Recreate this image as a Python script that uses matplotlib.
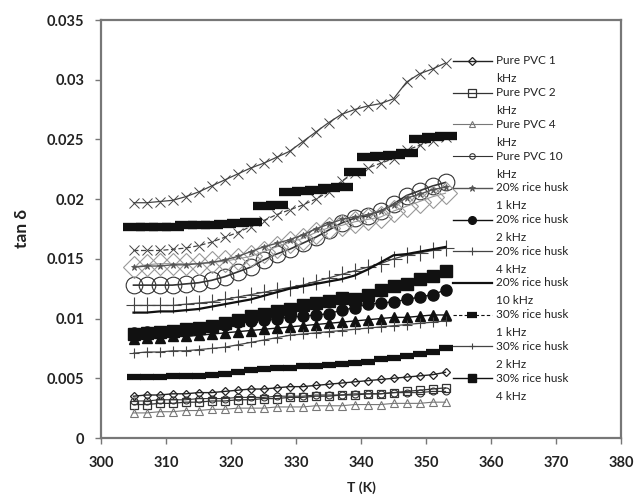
import matplotlib
matplotlib.use("Agg")
import matplotlib.pyplot as plt

plt.rcParams['font.family'] = ['Lato', 'DejaVu Sans']

# temperature (K)
T = [305, 307, 309, 311, 313, 315, 317, 319, 321, 323, 325, 327, 329,
     331, 333, 335, 337, 339, 341, 343, 345, 347, 349, 351, 353]

# series shown in the legend
pvc_1k = [.0035, .0036, .0036, .0037, .0037, .0038, .0038, .0039, .0040, .0041, .0041, .0042, .0043,
          .0043, .0044, .0045, .0046, .0047, .0048, .0049, .0050, .0051, .0052, .0053, .0055]
pvc_2k = [.0028, .0028, .0029, .0029, .0030, .0030, .0031, .0031, .0032, .0032, .0033, .0033, .0034,
          .0034, .0035, .0035, .0036, .0036, .0037, .0037, .0038, .0039, .0040, .0041, .0042]
pvc_4k = [.0021, .0021, .0022, .0022, .0023, .0023, .0024, .0024, .0025, .0025, .0025, .0026, .0026,
          .0026, .0027, .0027, .0027, .0028, .0028, .0028, .0029, .0029, .0029, .0030, .0030]
pvc_10k = [.0031, .0031, .0032, .0032, .0032, .0033, .0033, .0033, .0034, .0034, .0034, .0035, .0035,
           .0035, .0036, .0036, .0036, .0037, .0037, .0037, .0038, .0038, .0038, .0039, .0039]
rh20_1k = [.0143, .0144, .0144, .0145, .0145, .0146, .0147, .0149, .0152, .0156, .0160, .0163, .0166,
           .0170, .0175, .0179, .0183, .0185, .0187, .0190, .0195, .0201, .0204, .0208, .0210]
rh20_2k = [.0088, .0089, .0089, .0090, .0091, .0092, .0093, .0095, .0097, .0098, .0099, .0100, .0101,
           .0102, .0103, .0104, .0107, .0109, .0112, .0113, .0114, .0116, .0118, .0120, .0124]
rh20_4k = [.0111, .0111, .0111, .0111, .0112, .0113, .0114, .0116, .0118, .0120, .0122, .0124, .0126,
           .0128, .0131, .0134, .0137, .0140, .0143, .0146, .0150, .0153, .0155, .0157, .0159]
rh20_10k = [.0105, .0105, .0106, .0106, .0107, .0108, .0110, .0112, .0114, .0116, .0119, .0122, .0125,
            .0127, .0129, .0131, .0133, .0136, .0141, .0147, .0153, .0154, .0156, .0158, .0160]
rh30_1k = [.0051, .0051, .0051, .0052, .0052, .0052, .0053, .0054, .0055, .0057, .0058, .0059, .0059,
           .0060, .0060, .0061, .0062, .0063, .0064, .0066, .0067, .0069, .0070, .0072, .0075]
rh30_2k = [.0071, .0072, .0072, .0073, .0073, .0074, .0075, .0076, .0078, .0080, .0082, .0084, .0086,
           .0087, .0088, .0089, .0090, .0091, .0092, .0093, .0094, .0095, .0096, .0097, .0098]
rh30_4k = [.0087, .0088, .0089, .0090, .0091, .0092, .0094, .0096, .0099, .0102, .0104, .0106, .0108,
           .0111, .0113, .0115, .0117, .0116, .0120, .0124, .0127, .0129, .0133, .0136, .0140]

# series whose legend entries are cut off in the original
extra_tri = [.0083, .0084, .0084, .0085, .0085, .0086, .0087, .0088, .0089, .0090, .0091, .0092, .0093,
             .0094, .0095, .0096, .0097, .0098, .0099, .0100, .0101, .0101, .0102, .0103, .0103]
extra_x_top = [.0197, .0197, .0198, .0199, .0202, .0206, .0211, .0216, .0221, .0226, .0230, .0235, .0240,
               .0248, .0256, .0264, .0271, .0275, .0278, .0280, .0284, .0298, .0305, .0309, .0314]
extra_x_mid = [.0157, .0157, .0157, .0158, .0159, .0161, .0164, .0168, .0172, .0177, .0182, .0187, .0191,
               .0195, .0200, .0206, .0215, .0222, .0226, .0230, .0234, .0241, .0245, .0249, .0252]
extra_circ = [.0128, .0128, .0128, .0128, .0129, .0130, .0132, .0135, .0139, .0143, .0149, .0154, .0158,
              .0163, .0168, .0174, .0180, .0184, .0186, .0190, .0196, .0203, .0207, .0211, .0214]
extra_bars = [.0177, .0177, .0177, .0177, .0178, .0178, .0178, .0179, .0180, .0181, .0194, .0195, .0206,
              .0207, .0208, .0209, .0210, .0223, .0235, .0236, .0237, .0239, .0250, .0252, .0253]
extra_diam = [.0143, .0145, .0146, .0146, .0146, .0146, .0147, .0148, .0150, .0152, .0156, .0160, .0164,
              .0167, .0172, .0176, .0178, .0181, .0183, .0185, .0190, .0194, .0198, .0202, .0205]

legend_labels = ["Pure PVC 1", "Pure PVC 2", "Pure PVC 4", "Pure PVC 10",
                 "20% rice husk", "20% rice husk", "20% rice husk", "20% rice husk",
                 "30% rice husk", "30% rice husk", "30% rice husk"]
legend_units = ["kHz", "kHz", "kHz", "kHz", "1 kHz", "2 kHz", "4 kHz", "10 kHz",
                "1 kHz", "2 kHz", "4 kHz"]

legend_series = [pvc_1k, pvc_2k, pvc_4k, pvc_10k, rh20_1k, rh20_2k, rh20_4k, rh20_10k,
                 rh30_1k, rh30_2k, rh30_4k]
legend_styles = [
    dict(color="#222", lw=1.0, marker="D", ms=4.5, mfc="none", mew=0.9),
    dict(color="#333", lw=0.9, marker="s", ms=6, mfc="none", mew=0.9),
    dict(color="#777", lw=0.8, marker="^", ms=6, mfc="none", mew=0.8),
    dict(color="#333", lw=0.8, marker="o", ms=5, mfc="none", mew=0.8),
    dict(color="#555", lw=1.0, marker="*", ms=5, mew=0.6),
    dict(color="#111", lw=1.0, marker="o", ms=8, mfc="#111"),
    dict(color="#444", lw=0.9, marker="+", ms=12, mew=0.8),
    dict(color="#111", lw=1.6),
    dict(color="#111", lw=0.8, ls=(0, (3, 2)), marker="_", ms=10, mew=4.5),
    dict(color="#444", lw=0.9, marker="+", ms=7, mew=0.8),
    dict(color="#111", lw=1.0, marker="s", ms=8, mfc="#111"),
]
# marker sizes used in the hand-drawn legend (smaller, as in the original)
legend_ms = [4.5, 6, 5, 4, 4.5, 5.5, 6, 0, 7, 5, 6]

extra_series = [extra_tri, extra_x_top, extra_x_mid, extra_circ, extra_bars, extra_diam]
extra_styles = [
    dict(color="#111", lw=1.0, marker="^", ms=7, mfc="#111"),
    dict(color="#444", lw=0.9, marker="x", ms=7, mew=0.7),
    dict(color="#444", lw=0.9, ls=(0, (4, 2)), marker="x", ms=7, mew=0.7),
    dict(color="#333", lw=1.2, marker="o", ms=12, mfc="none", mew=0.8),
    dict(color="#111", lw=0, marker="_", ms=16, mew=6),
    dict(color="#999", lw=0.8, marker="D", ms=11, mfc="none", mew=0.8),
]

fig = plt.figure(figsize=(6.37, 4.95), dpi=100)
ax = fig.add_axes([101 / 637, 57 / 495, 520 / 637, 418 / 495])

for vals, st in zip(extra_series, extra_styles):
    ax.plot(T, vals, **st)
for vals, st in zip(legend_series, legend_styles):
    ax.plot(T, vals, **st)

ax.set_xlim(300, 380)
ax.set_ylim(0, 0.035)
ax.set_xticks(range(300, 381, 10))
ax.set_yticks([0, 0.005, 0.01, 0.015, 0.02, 0.025, 0.03, 0.035])
ax.set_yticklabels(["0", "0.005", "0.01", "0.015", "0.02", "0.025", "0.03", "0.035"])

for sp in ax.spines.values():
    sp.set_color("#777")
    sp.set_linewidth(1.6)
ax.tick_params(direction="out", length=4, width=1, color="#777",
               labelsize=10.5, labelcolor="#222")
ax.tick_params(axis="y", pad=8)
ax.tick_params(axis="x", pad=9)
for lab in ax.get_xticklabels() + ax.get_yticklabels():
    lab.set_fontweight("bold")

ax.set_xlabel("T (K)", fontsize=10, fontweight="bold", color="#222", labelpad=8)
ax.set_ylabel("tan δ", fontsize=12.5, fontweight="bold", color="#222", labelpad=12)

# legend drawn by hand so the handle sits on the first text line, like Excel
def ax_x(px):
    return (px - 101) / 520

def ax_y(py):
    return (438 - py) / 418

for i, (lab, unit, st) in enumerate(zip(legend_labels, legend_units, legend_styles)):
    py = 61 + 31.7 * i
    y = ax_y(py)
    hst = dict(st)
    if "marker" in hst:
        hst["ms"] = legend_ms[i]
    ax.plot([ax_x(453), ax_x(472), ax_x(492)], [y, y, y], transform=ax.transAxes,
            markevery=[1], clip_on=False, **hst)
    ax.text(ax_x(496), y, lab, transform=ax.transAxes, fontsize=8.5, va="center",
            ha="left", color="#222")
    ax.text(ax_x(496), ax_y(py + 18), unit, transform=ax.transAxes, fontsize=8.5,
            va="center", ha="left", color="#222")

fig.savefig("out.png", dpi=100)
